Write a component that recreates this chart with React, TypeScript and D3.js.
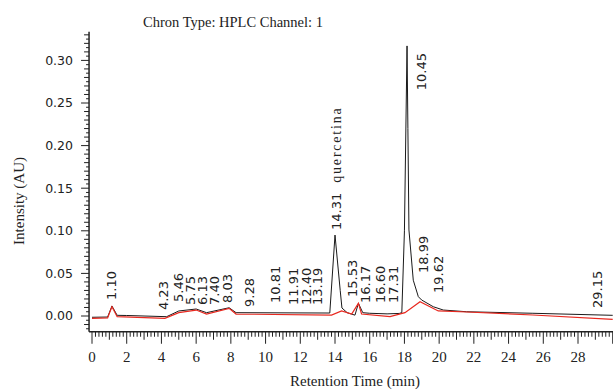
import React from 'react';
import * as d3 from 'd3';

const W = 613;
const H = 391;

// retention time (min) / intensity (AU)
const blackT = [0, 0.9, 1.15, 1.45, 2.0, 4.3, 5.0, 6.0, 6.6, 7.9, 8.3, 13.7, 14.0, 14.3, 14.4, 14.7, 14.95, 15.15, 15.35, 15.6, 16.0, 17.0, 17.7, 17.85, 18.0, 18.15, 18.2, 18.26, 18.51, 18.8, 18.99, 19.66, 20.24, 21.58, 25.4, 30];
const blackV = [-0.0015, -0.0012, 0.0117, 0.0008, 0.0006, -0.0008, 0.0059, 0.0082, 0.0039, 0.0097, 0.0039, 0.0035, 0.095, 0.03, 0.0094, 0.0039, 0.0023, 0.001, 0.0149, 0.0039, 0.0032, 0.0025, 0.003, 0.004, 0.1, 0.317, 0.22, 0.101, 0.042, 0.0227, 0.0188, 0.0109, 0.007, 0.005, 0.0032, 0.0008];

const redT = [0, 0.9, 1.15, 1.45, 4.2, 5.0, 6.0, 6.6, 7.9, 8.3, 13.8, 14.38, 14.96, 15.35, 15.53, 17.17, 18.03, 18.9, 19.95, 21.6, 25.4, 30];
const redV = [-0.0027, -0.0023, 0.011, -0.0008, -0.0027, 0.0039, 0.007, 0.0023, 0.009, 0.0023, 0.001, 0.0059, 0.0023, 0.0149, 0.0023, -0.0008, 0.0039, 0.0168, 0.0059, 0.0047, 0.0012, -0.0039];

// peak labels: text, time position, base intensity
const peakNames = ['1.10', '4.23', '5.46', '5.75', '6.13', '7.40', '8.03', '9.28', '10.81', '11.91', '12.40', '13.19', '14.31', '15.53', '16.17', '16.60', '17.31', '10.45', '18.99', '19.62', '29.15'];
const peakT = [1.09, 4.09, 4.95, 5.65, 6.34, 7.03, 7.78, 9.04, 10.54, 11.58, 12.33, 12.99, 14.06, 14.98, 15.73, 16.59, 17.34, 18.95, 19.07, 19.93, 29.09];
const peakV = [0.0188, 0.007, 0.0164, 0.0129, 0.0129, 0.0129, 0.0153, 0.0106, 0.0153, 0.0129, 0.0129, 0.0129, 0.101, 0.0223, 0.0153, 0.0153, 0.0153, 0.265, 0.0505, 0.027, 0.0094];
const peakNote: Record<string, string> = { '14.31': 'quercetina' };

const yTicks = [0, 0.05, 0.1, 0.15, 0.2, 0.25, 0.3];
const xTicks = [0, 2, 4, 6, 8, 10, 12, 14, 16, 18, 20, 22, 24, 26, 28];

const serif = '"Liberation Serif", "DejaVu Serif", serif';
const sans = '"DejaVu Sans", sans-serif';

const x = d3.scaleLinear().domain([0, 28]).range([92, 578]);
const y = d3.scaleLinear().domain([0, 0.3]).range([316, 60.4]);
const xMin = -0.17, xMax = 30;
const yMin = -0.0185, yMax = 0.3335;

export default function App() {
  const line = d3.line<[number, number]>().x(d => x(d[0])).y(d => y(d[1]));
  const black = line(blackT.map((t, i) => [t, blackV[i]]));
  const red = line(redT.map((t, i) => [t, redV[i]]));

  const yMinor = d3.range(-15, 334, 5).map(v => v / 1000);
  const xMinor = d3.range(0, 151, 1).map(v => v / 5);

  return (
    <svg width={W} height={H} style={{ position: 'absolute', left: 0, top: 0, background: '#fff' }}>
      <text x={233} y={27} textAnchor="middle" fontFamily={serif} fontSize={14.5} fill="#222">
        Chron Type: HPLC Channel: 1
      </text>

      {/* y axis */}
      <line x1={x(xMin)} x2={x(xMin)} y1={y(yMin)} y2={y(yMax)} stroke="#222" strokeWidth={1.5} />
      {yMinor.map(v => {
        const k = Math.round(v * 1000);
        const len = k % 50 === 0 ? 8 : k % 10 === 0 ? 5 : 3;
        return <line key={'ym' + k} x1={x(xMin) - len} x2={x(xMin)} y1={y(v)} y2={y(v)} stroke="#222" strokeWidth={1} />;
      })}
      {yTicks.map(v => (
        <text key={'yt' + v} x={73} y={y(v)} dy="0.35em" textAnchor="end" fontFamily={sans} fontSize={12.5} fill="#222">
          {v.toFixed(2)}
        </text>
      ))}
      <text transform={`translate(24,${y(0.135)}) rotate(-90)`} textAnchor="middle" fontFamily={serif} fontSize={15} fill="#222">
        Intensity (AU)
      </text>

      {/* x axis */}
      <line x1={x(xMin)} x2={W} y1={y(yMin)} y2={y(yMin)} stroke="#222" strokeWidth={1.5} />
      {xMinor.map(t => {
        const k = Math.round(t * 5);
        const len = k % 10 === 0 ? 12 : k % 5 === 0 ? 8 : 5;
        return <line key={'xm' + k} x1={x(t)} x2={x(t)} y1={y(yMin)} y2={y(yMin) + len} stroke="#222" strokeWidth={1} />;
      })}
      {xTicks.map(t => (
        <text key={'xt' + t} x={x(t)} y={362} textAnchor="middle" fontFamily={serif} fontSize={15} fill="#222">
          {t}
        </text>
      ))}
      <text x={355} y={386} textAnchor="middle" fontFamily={serif} fontSize={15} fill="#222">
        Retention Time (min)
      </text>

      {/* traces */}
      <path d={black ?? ''} fill="none" stroke="#1a1a1a" strokeWidth={1} />
      <path d={red ?? ''} fill="none" stroke="#e8281f" strokeWidth={1.2} />

      {/* peak labels */}
      {peakNames.map((name, i) => (
        <text key={'pk' + i} transform={`translate(${x(peakT[i])},${y(peakV[i])}) rotate(-90)`} dy="0.36em" fontFamily={sans} fontSize={13} fill="#222">
          {name}
          {peakNote[name] ? (
            <tspan dx={10} fontFamily={serif} fontSize={14} letterSpacing={1.8}>{peakNote[name]}</tspan>
          ) : null}
        </text>
      ))}
    </svg>
  );
}
